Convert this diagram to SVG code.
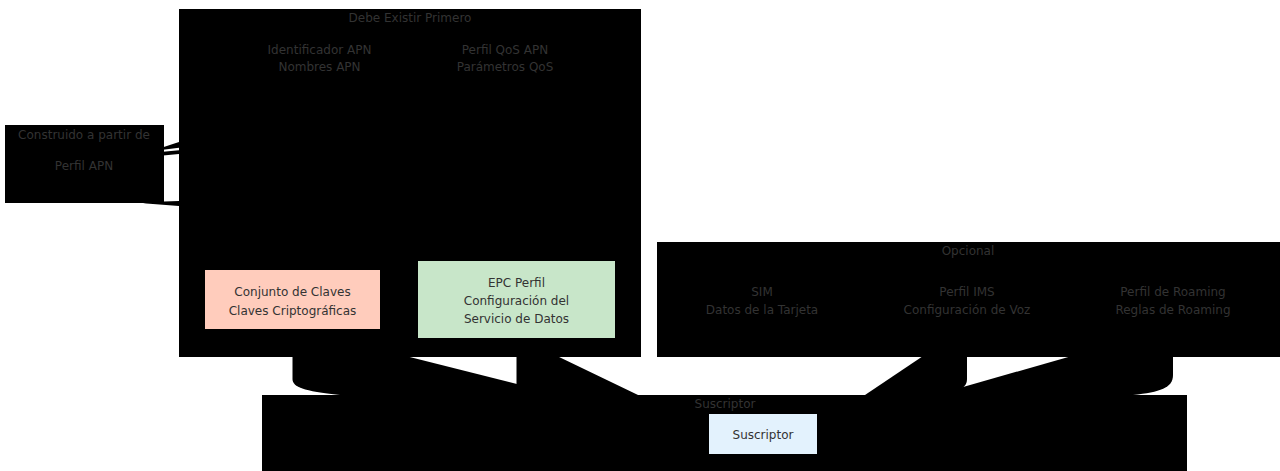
<svg xmlns="http://www.w3.org/2000/svg" width="1280" height="471" viewBox="0 0 1280 471">
<style>
.cl{fill:#000;stroke:none}
.nd{fill:#000;stroke:none}
.e{fill:#000;stroke:none}
text{font-family:"DejaVu Sans",Verdana,sans-serif;font-size:12px;fill:#333;text-anchor:middle}
</style>
<rect width="1280" height="471" fill="#fff"/>
<g id="clusters">
<g id="cluster-debe"><rect class="cl" x="179" y="9" width="462" height="348"/><text x="410" y="22">Debe Existir Primero</text></g>
<g id="cluster-construido"><rect class="cl" x="5" y="125" width="159" height="78"/><text x="84" y="138.5">Construido a partir de</text></g>
<g id="cluster-opcional"><rect class="cl" x="657" y="242" width="623" height="115"/><text x="968" y="255">Opcional</text></g>
<g id="cluster-suscriptor"><rect class="cl" x="262" y="395" width="925" height="76"/><text x="725" y="407.5">Suscriptor</text></g>
</g>
<g id="connectors">
<path class="e" d="M163,147.3 L179,142 L179,147.8 L163,149.8 Z"/>
<path class="e" d="M163,151.8 L179,150.3 L179,154 L163,155.5 Z"/>
<path class="e" d="M143,203.2 L164,201.5 L179,201 L179,206 Z"/>
<path class="e" d="M292.5,327.4 L292.5,379 C292.5,387 303,391 340,395 L636,414 Z"/>
<path class="e" d="M516.5,336.6 L516.5,392 C516.5,400 530,403 560,405 L677.5,414 Z"/>
<path class="e" d="M967,326.6 L967,378.5 C967,387 962,390 945,394 L836.7,414 Z"/>
<path class="e" d="M1173,327 L1173,375 C1173,388 1160,392 1133,395 L869,414 Z"/>
</g>
<g id="node-identificador"><rect class="nd" x="257" y="30" width="125" height="56"/><text x="319.5" y="53.5">Identificador APN</text><text x="319.5" y="71">Nombres APN</text></g>
<g id="node-qos"><rect class="nd" x="443" y="30" width="124" height="56"/><text x="505" y="53.5">Perfil QoS APN</text><text x="505" y="71">Parámetros QoS</text></g>
<g id="node-perfilapn"><rect class="nd" x="20" y="146" width="128" height="40"/><text x="84" y="169.5">Perfil APN</text></g>
<g id="node-conjunto"><rect x="205" y="270" width="175" height="59" fill="#ffccbc"/><text x="292.5" y="296">Conjunto de Claves</text><text x="292.5" y="314.5">Claves Criptográficas</text></g>
<g id="node-epc"><rect x="418" y="261" width="197" height="77" fill="#c8e6c9"/><text x="516.5" y="286.5">EPC Perfil</text><text x="516.5" y="305">Configuración del</text><text x="516.5" y="323">Servicio de Datos</text></g>
<g id="node-sim"><rect class="nd" x="700" y="273" width="124" height="54"/><text x="762" y="295.5">SIM</text><text x="762" y="314">Datos de la Tarjeta</text></g>
<g id="node-ims"><rect class="nd" x="900" y="273" width="134" height="54"/><text x="967" y="295.5">Perfil IMS</text><text x="967" y="314">Configuración de Voz</text></g>
<g id="node-roaming"><rect class="nd" x="1110" y="273" width="126" height="54"/><text x="1173" y="295.5">Perfil de Roaming</text><text x="1173" y="314">Reglas de Roaming</text></g>
<g id="node-suscriptor"><rect x="709" y="414" width="108" height="40" fill="#e3f2fd"/><text x="763" y="438.5">Suscriptor</text></g>
</svg>
